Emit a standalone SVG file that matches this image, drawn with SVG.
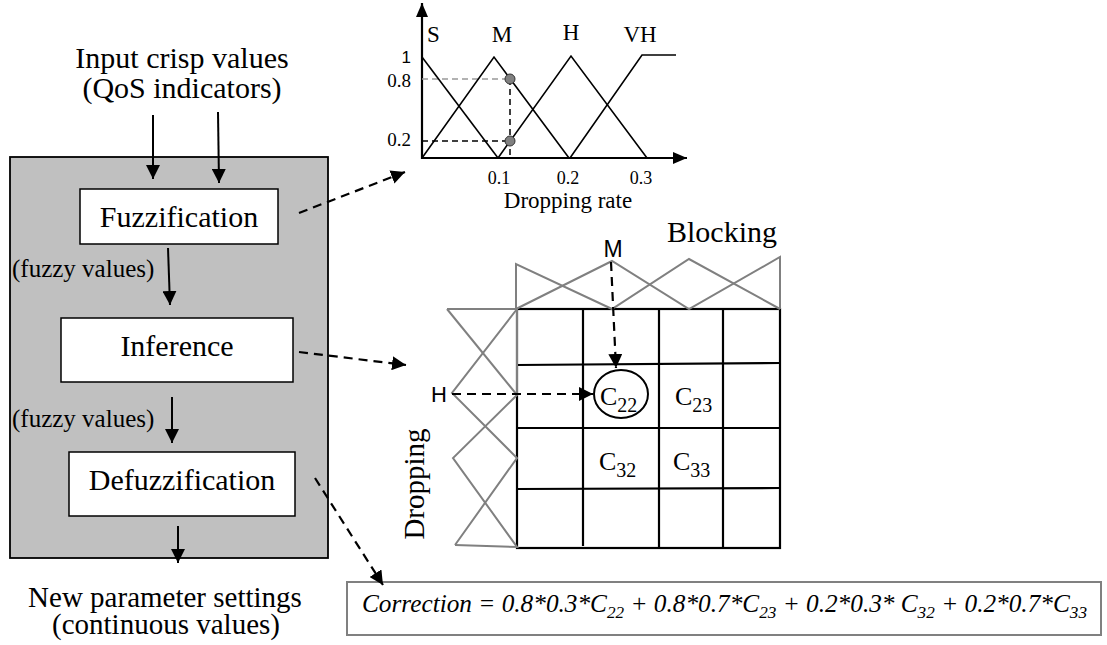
<svg xmlns="http://www.w3.org/2000/svg" width="1107" height="645" viewBox="0 0 1107 645">
<style>
.serif{font-family:"Liberation Serif","Times New Roman",serif;fill:#000}
.sans{font-family:"Liberation Sans",Arial,sans-serif;fill:#000}
.big{font-size:30px}
.mid{font-size:25px}
.tick{font-size:18px}
.box{fill:#fff;stroke:#000;stroke-width:1.5}
.ln{stroke:#000;stroke-width:1.6;fill:none}
.gr{stroke:#808080;stroke-width:2;fill:none}
.grid{stroke:#000;stroke-width:2.2;fill:none}
.arr{stroke:#000;stroke-width:2;fill:none;marker-end:url(#ah)}
.darr{stroke:#000;stroke-width:2.2;fill:none;stroke-dasharray:9 6;marker-end:url(#ah2)}
.dash{stroke:#000;stroke-width:1.5;stroke-dasharray:6 4;fill:none}
</style>
<defs>
<marker id="ah" markerUnits="userSpaceOnUse" viewBox="0 0 14 14" markerWidth="14" markerHeight="14" refX="14" refY="7" orient="auto"><path d="M0,0 L14,7 L0,14 z" fill="#000"/></marker>
<marker id="ah2" markerUnits="userSpaceOnUse" viewBox="0 0 14 14" markerWidth="14" markerHeight="14" refX="14" refY="7" orient="auto"><path d="M0,0 L14,7 L0,14 z" fill="#000"/></marker>
<marker id="ax" markerUnits="userSpaceOnUse" viewBox="0 0 14 12" markerWidth="14" markerHeight="12" refX="14" refY="6" orient="auto"><path d="M0,0 L14,6 L0,12 z" fill="#000"/></marker>
</defs>
<rect width="1107" height="645" fill="#fff"/>

<g id="input-label">
<text class="serif big" x="182" y="68" text-anchor="middle">Input crisp values</text>
<text class="serif big" x="182" y="98" text-anchor="middle">(QoS indicators)</text>
</g>

<g id="fuzzy-processor">
<rect x="10" y="157" width="318" height="401" fill="#c0c0c0" stroke="#000" stroke-width="1.8"/>
<text class="serif mid" x="12" y="277">(fuzzy values)</text>
<text class="serif mid" x="12" y="427">(fuzzy values)</text>
</g>

<g id="fuzzification">
<rect class="box" x="80" y="189" width="198" height="55"/>
<text class="serif big" x="179" y="227" text-anchor="middle">Fuzzification</text>
</g>

<g id="inference">
<rect class="box" x="61" y="318" width="232" height="64"/>
<text class="serif big" x="177" y="356" text-anchor="middle">Inference</text>
</g>

<g id="defuzzification">
<rect class="box" x="69" y="452" width="226" height="64"/>
<text class="serif big" x="182" y="490" text-anchor="middle">Defuzzification</text>
</g>

<g id="output-label">
<text class="serif" font-size="29" x="165" y="607" text-anchor="middle">New parameter settings</text>
<text class="serif" font-size="29" x="166" y="634" text-anchor="middle">(continuous values)</text>
</g>

<g id="membership-chart">
<line class="ln" x1="422" y1="159" x2="422" y2="3" style="stroke-width:2.2;marker-end:url(#ax)"/>
<line class="ln" x1="421" y1="158" x2="687" y2="158" style="stroke-width:2.2;marker-end:url(#ax)"/>
<line x1="422" y1="79" x2="510" y2="79" stroke="#999" stroke-width="1.5" stroke-dasharray="6 4"/>
<line class="dash" x1="422" y1="141" x2="510" y2="141"/>
<line class="dash" x1="510" y1="79" x2="510" y2="158"/>
<polyline class="ln" points="422,57 498,158"/>
<polyline class="ln" points="422,158 494,57 569,158"/>
<polyline class="ln" points="498,158 571,56 647,158"/>
<polyline class="ln" points="570,158 642,55 676,55"/>
<circle cx="510" cy="79" r="5" fill="#808080" stroke="#333" stroke-width="1"/>
<circle cx="510" cy="141" r="5" fill="#808080" stroke="#333" stroke-width="1"/>
<text class="serif" font-size="23" x="427" y="42">S</text>
<text class="serif" font-size="23" x="502" y="42" text-anchor="middle">M</text>
<text class="serif" font-size="23" x="571" y="40" text-anchor="middle">H</text>
<text class="serif" font-size="23" x="640" y="42" text-anchor="middle">VH</text>
<text class="sans" font-size="17" x="411" y="63" text-anchor="end">1</text>
<text class="serif" font-size="19" x="411" y="87" text-anchor="end">0.8</text>
<text class="serif" font-size="19" x="411" y="146" text-anchor="end">0.2</text>
<text class="serif tick" x="499" y="184" text-anchor="middle">0.1</text>
<text class="serif tick" x="568" y="184" text-anchor="middle">0.2</text>
<text class="serif tick" x="641" y="184" text-anchor="middle">0.3</text>
<text class="serif" font-size="23" x="568" y="208" text-anchor="middle">Dropping rate</text>
</g>

<g id="rule-grid">
<rect class="grid" x="517" y="309" width="263" height="239"/>
<line class="grid" x1="583" y1="309" x2="583" y2="546"/>
<line class="grid" x1="659" y1="309" x2="659" y2="548"/>
<line class="grid" x1="723" y1="309" x2="723" y2="548"/>
<line class="grid" x1="517" y1="365" x2="780" y2="363"/>
<line class="grid" x1="517" y1="428" x2="780" y2="428"/>
<line class="grid" x1="517" y1="489" x2="780" y2="488"/>
<polyline class="gr" points="516,309 516,264 612,309 689,259 780,309"/>
<polyline class="gr" points="516,309 612,261 689,309 780,257 780,309"/>
<polyline class="gr" points="447,309 517,309 517,395 453,458 517,547 455,545"/>
<polyline class="gr" points="447,309 517,395"/>
<polyline class="gr" points="517,309 452,393 517,458 455,545"/>
<text class="sans" font-size="23" x="613" y="257" text-anchor="middle">M</text>
<text class="sans" font-size="22" x="439" y="402" text-anchor="middle">H</text>
<text class="serif big" x="722" y="242" text-anchor="middle">Blocking</text>
<text class="serif" font-size="29" transform="translate(424,484) rotate(-90)" text-anchor="middle">Dropping</text>
<ellipse cx="621" cy="394" rx="27" ry="24" fill="none" stroke="#000" stroke-width="2"/>
<text class="serif" font-size="26" x="600" y="405">C<tspan font-size="20" dy="7">22</tspan></text>
<text class="serif" font-size="26" x="675" y="405">C<tspan font-size="20" dy="7">23</tspan></text>
<text class="serif" font-size="26" x="599" y="470">C<tspan font-size="20" dy="7">32</tspan></text>
<text class="serif" font-size="26" x="673" y="470">C<tspan font-size="20" dy="7">33</tspan></text>
</g>

<g id="formula">
<rect x="347" y="582" width="754" height="53" fill="#fff" stroke="#808080" stroke-width="2"/>
<text class="serif" font-size="25" font-style="italic" x="362" y="612" textLength="725" lengthAdjust="spacingAndGlyphs">Correction = 0.8*0.3*C<tspan font-size="17" dy="6">22</tspan><tspan dy="-6"> + 0.8*0.7*C</tspan><tspan font-size="17" dy="6">23</tspan><tspan dy="-6"> + 0.2*0.3* C</tspan><tspan font-size="17" dy="6">32</tspan><tspan dy="-6"> + 0.2*0.7*C</tspan><tspan font-size="17" dy="6">33</tspan></text>
</g>

<g id="connectors">
<line class="arr" x1="153" y1="115" x2="153" y2="179"/>
<line class="arr" x1="218" y1="112" x2="219" y2="183"/>
<line class="arr" x1="168" y1="248" x2="170" y2="305"/>
<line class="arr" x1="172" y1="397" x2="172" y2="443"/>
<line class="arr" x1="178" y1="526" x2="178" y2="563"/>
<line class="darr" x1="299" y1="213" x2="405" y2="172"/>
<line class="darr" x1="299" y1="352" x2="406" y2="365"/>
<line class="darr" x1="315" y1="478" x2="383" y2="585"/>
<line class="darr" x1="611" y1="262" x2="616" y2="368"/>
<line class="darr" x1="452" y1="394" x2="593" y2="394"/>
</g>
</svg>
